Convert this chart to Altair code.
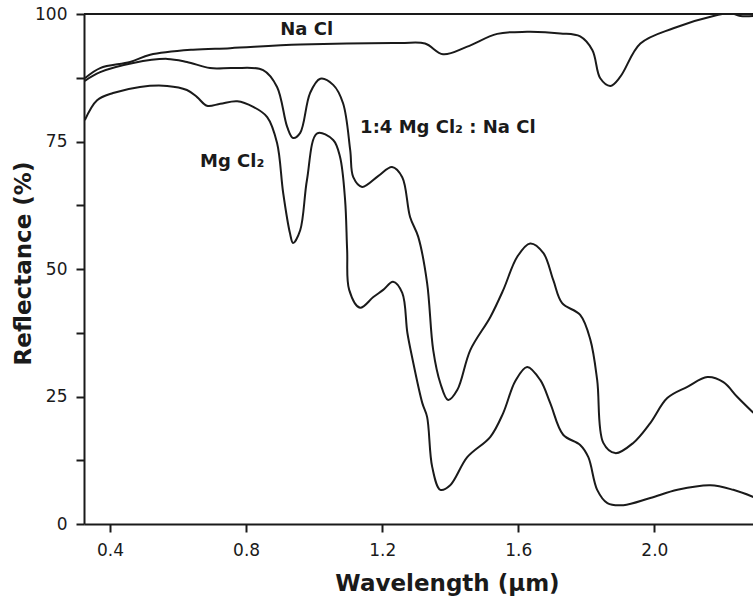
import altair as alt
import pandas as pd

# ---- data ----
nacl_wl = [0.326, 0.371, 0.459, 0.518, 0.644, 0.753, 0.959, 1.253, 1.326, 1.379,
           1.450, 1.538, 1.626, 1.724, 1.782, 1.818, 1.841, 1.871, 1.900, 1.959,
           2.056, 2.185, 2.224, 2.253, 2.291]
nacl_r = [87.4, 89.4, 90.6, 92.0, 93.0, 93.3, 94.0, 94.3, 94.2, 92.1,
          93.6, 96.1, 96.5, 96.2, 95.6, 92.9, 87.4, 85.9, 87.7, 94.2,
          97.2, 99.8, 100.2, 99.6, 99.6]

mix_wl = [0.326, 0.371, 0.468, 0.568, 0.626, 0.694, 0.762, 0.850, 0.891, 0.921,
          0.938, 0.959, 0.988, 1.018, 1.056, 1.085, 1.106, 1.115, 1.141, 1.188,
          1.229, 1.259, 1.282, 1.306, 1.332, 1.350, 1.371, 1.394, 1.421, 1.459,
          1.518, 1.556, 1.597, 1.635, 1.674, 1.703, 1.729, 1.782, 1.812, 1.832,
          1.850, 1.885, 1.938, 1.988, 2.038, 2.097, 2.156, 2.203, 2.244, 2.291]
mix_r = [86.9, 88.6, 90.4, 91.2, 90.6, 89.4, 89.4, 89.0, 85.7, 77.8,
         75.7, 76.7, 84.5, 87.3, 86.1, 82.5, 73.3, 68.0, 66.1, 68.2,
         70.0, 68.0, 60.2, 56.3, 47.3, 34.1, 27.6, 24.3, 26.3, 34.1,
         40.6, 45.9, 52.4, 55.0, 53.1, 47.8, 43.3, 41.0, 36.1, 28.2,
         15.9, 13.9, 15.9, 19.8, 24.7, 26.9, 28.8, 27.8, 24.9, 21.8]

mgcl_wl = [0.326, 0.362, 0.409, 0.488, 0.568, 0.626, 0.656, 0.685, 0.724, 0.774,
           0.821, 0.862, 0.891, 0.909, 0.929, 0.938, 0.959, 0.979, 1.009, 1.056,
           1.076, 1.091, 1.097, 1.103, 1.135, 1.174, 1.203, 1.232, 1.259, 1.274,
           1.288, 1.318, 1.332, 1.347, 1.371, 1.400, 1.450, 1.518, 1.556, 1.591,
           1.626, 1.665, 1.694, 1.732, 1.782, 1.806, 1.832, 1.862, 1.909, 1.988,
           2.068, 2.165, 2.232, 2.291]
mgcl_r = [79.2, 83.1, 84.5, 85.7, 85.9, 85.1, 83.7, 82.0, 82.4, 82.9,
          81.8, 79.8, 74.7, 64.9, 57.0, 55.1, 57.6, 67.5, 76.6, 75.3,
          72.0, 63.5, 53.7, 45.9, 42.4, 44.5, 45.9, 47.5, 45.3, 37.5,
          32.7, 23.7, 21.0, 11.2, 6.7, 7.6, 13.1, 17.1, 21.8, 28.0,
          30.8, 28.2, 23.7, 17.5, 15.5, 13.1, 6.7, 4.1, 3.7, 5.1,
          6.7, 7.6, 6.7, 5.3]

series_names = ["NaCl", "1:4 MgCl2:NaCl", "MgCl2"]

label_text = ["Na Cl", "1:4 Mg Cl\u2082 : Na Cl", "Mg Cl\u2082"]
label_wl = [0.978, 1.393, 0.759]
label_r = [95.9, 76.7, 70.0]

x_ticks = [0.4, 0.8, 1.2, 1.6, 2.0]
y_ticks = [0, 12.5, 25, 37.5, 50, 62.5, 75, 87.5, 100]
x_domain = [0.3235, 2.29]
y_domain = [0, 100]

# ---- tables ----
rows = []
for name, wl, r in zip(series_names, [nacl_wl, mix_wl, mgcl_wl], [nacl_r, mix_r, mgcl_r]):
    for i, (a, b) in enumerate(zip(wl, r)):
        rows.append({"series": name, "wl": a, "r": b, "order": i})
df = pd.DataFrame(rows)
labels_df = pd.DataFrame({"text": label_text, "wl": label_wl, "r": label_r})
frame_df = pd.DataFrame({"r": [y_domain[1]]})

INK = "#1a1a1a"
FONT = "DejaVu Sans"

x_enc = alt.X(
    "wl:Q",
    scale=alt.Scale(domain=x_domain, nice=False, zero=False),
    axis=alt.Axis(
        values=x_ticks, format=".1f", title="Wavelength (\u00b5m)",
        grid=False, domainColor=INK, domainWidth=2, tickColor=INK, tickWidth=2,
        tickSize=8, labelFont=FONT, labelFontSize=17, labelColor=INK,
        labelPadding=10, labelFlush=False,
        titleFont=FONT, titleFontSize=23, titleFontWeight="bold", titleColor=INK,
        titleX=363, titleY=66, titleBaseline="alphabetic", titleAlign="center",
    ),
)
y_enc = alt.Y(
    "r:Q",
    scale=alt.Scale(domain=y_domain, nice=False),
    axis=alt.Axis(
        values=y_ticks, labelExpr="datum.value % 25 == 0 ? datum.label : ''",
        title="Reflectance (%)",
        grid=False, domainColor=INK, domainWidth=2, tickColor=INK, tickWidth=2,
        tickSize=8, labelFont=FONT, labelFontSize=17, labelColor=INK,
        labelPadding=9, labelFlush=False,
        titleFont=FONT, titleFontSize=23, titleFontWeight="bold", titleColor=INK,
        titleX=-54, titleY=249, titleAngle=270, titleBaseline="alphabetic",
        titleAlign="center",
    ),
)

lines = alt.Chart(df).mark_line(
    interpolate="catmull-rom", color=INK, strokeWidth=2, clip=True
).encode(x=x_enc, y=y_enc, detail="series:N", order="order:Q")

frame = alt.Chart(frame_df).mark_rule(color=INK, strokeWidth=2).encode(y=y_enc)

texts = alt.Chart(labels_df).mark_text(
    font=FONT, fontWeight="bold", fontSize=18, color=INK,
    align="center", baseline="alphabetic",
).encode(x=x_enc, y=y_enc, text="text:N")

chart = alt.layer(lines, frame, texts).properties(
    width=669, height=510,
    autosize=alt.AutoSizeParams(type="none"),
    padding={"left": 84, "top": 14, "right": 0, "bottom": 72},
    background="white",
).configure_view(stroke=None)

chart.save("out.html", embed_options={"renderer": "svg", "actions": False})
